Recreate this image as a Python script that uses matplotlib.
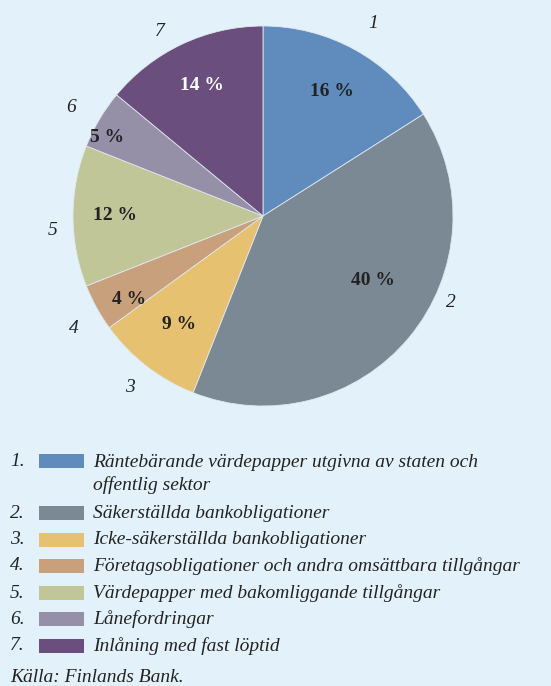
import matplotlib
matplotlib.use("Agg")
import matplotlib.pyplot as plt
import numpy as np
from matplotlib.patches import Rectangle

W, H = 551, 686
BG = "#e3f2fa"

shares = [16, 40, 9, 4, 12, 5, 14]
numbers = ["1", "2", "3", "4", "5", "6", "7"]
colors = ["#5f8bbd", "#7b8994", "#e5c170", "#c8a07b", "#c0c698", "#968fa8", "#6a4f7e"]
names = [
    "Räntebärande värdepapper utgivna av staten och\noffentlig sektor",
    "Säkerställda bankobligationer",
    "Icke-säkerställda bankobligationer",
    "Företagsobligationer och andra omsättbara tillgångar",
    "Värdepapper med bakomliggande tillgångar",
    "Lånefordringar",
    "Inlåning med fast löptid",
]
source = "Källa: Finlands Bank."

# label placement per slice (fraction of radius, degrees clockwise)
pct_dist = [0.75, 0.67, 0.72, 0.83, 0.78, 0.92, 0.76]
pct_shift = [0, -9, 0, -3, 0, -4, 0]
num_dist = [1.17, 1.09, 1.14, 1.16, 1.11, 1.16, 1.11]
num_shift = [1, -15, 0, -2, -4, -1, -4]

plt.rcParams["font.family"] = ["Liberation Serif", "DejaVu Serif"]

fig = plt.figure(figsize=(W / 100, H / 100), dpi=100, facecolor=BG)

cx, cy, R = 263, 216, 190
ax = fig.add_axes([(cx - R) / W, (H - cy - R) / H, 2 * R / W, 2 * R / H])
ax.set_facecolor(BG)

wedges, _ = ax.pie(shares, colors=colors, startangle=90, counterclock=False,
                   radius=1.0, wedgeprops=dict(edgecolor="#dfe8ee", linewidth=0.6))
ax.set_xlim(-1, 1)
ax.set_ylim(-1, 1)
ax.set_aspect("equal")
ax.axis("off")

for i, w in enumerate(wedges):
    mid = np.deg2rad((w.theta1 + w.theta2) / 2)
    tc = "white" if i == 6 else "#222222"
    a1 = mid - np.deg2rad(pct_shift[i])
    ax.text(pct_dist[i] * np.cos(a1), pct_dist[i] * np.sin(a1), f"{shares[i]} %",
            ha="center", va="center", fontsize=14, fontweight="bold", color=tc)
    a2 = mid - np.deg2rad(num_shift[i])
    ax.text(num_dist[i] * np.cos(a2), num_dist[i] * np.sin(a2), numbers[i],
            ha="center", va="center", fontsize=14, fontstyle="italic", color="#222222")

# legend
rows = [461, 513, 540, 566, 593, 619, 646]
for i in range(len(names)):
    y = rows[i]
    fig.text(10 / W, 1 - y / H, numbers[i] + ".", ha="left", va="center",
             fontsize=14, fontstyle="italic", color="#222222")
    fig.add_artist(Rectangle((39 / W, 1 - (y + 7) / H), 45 / W, 14 / H,
                             facecolor=colors[i], edgecolor="none",
                             transform=fig.transFigure))
    ty = y + 13 if "\n" in names[i] else y
    fig.text(93 / W, 1 - ty / H, names[i], ha="left", va="center",
             fontsize=14, fontstyle="italic", color="#222222", linespacing=1.35)

fig.text(10 / W, 1 - 677 / H, source, ha="left", va="center",
         fontsize=14, fontstyle="italic", color="#222222")

fig.savefig("out.png", dpi=100, facecolor=BG)
